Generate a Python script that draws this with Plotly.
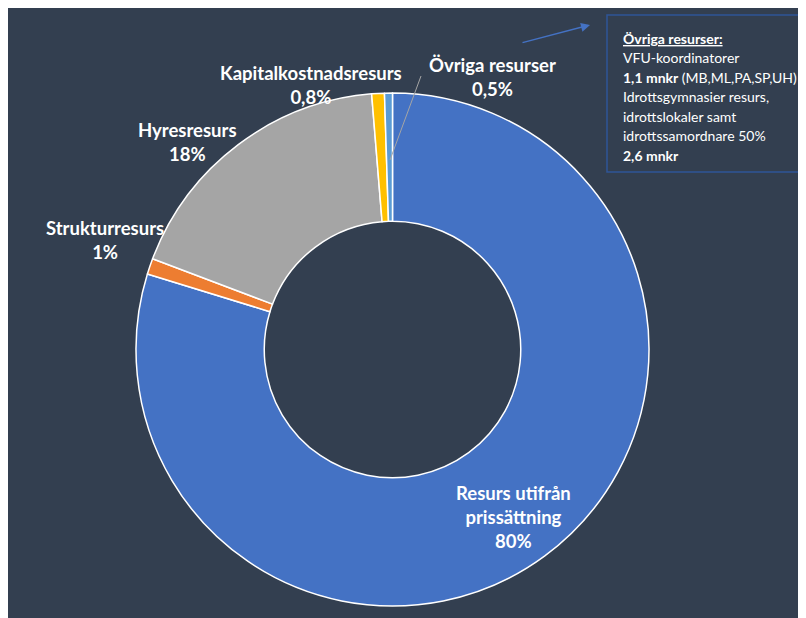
import plotly.graph_objects as go

# page body has an 8px margin, so the figure occupies 798x610 starting at (8, 8)
OFF = 8
W, H = 806 - OFF, 618 - OFF

categories = ["Resurs utifrån prissättning", "Strukturresurs", "Hyresresurs",
              "Kapitalkostnadsresurs", "Övriga resurser"]
values = [80, 1, 18, 0.8, 0.5]
pct_labels = ["80%", "1%", "18%", "0,8%", "0,5%"]
colors = ["#4472C4", "#ED7D31", "#A5A5A5", "#FFC000", "#5B9BD5"]

info_lines = [
    "<b><u>Övriga resurser:</u></b>",
    "VFU-koordinatorer",
    "<b>1,1 mnkr</b> (MB,ML,PA,SP,UH)",
    "Idrottsgymnasier resurs,",
    "idrottslokaler samt",
    "idrottssamordnare 50%",
    "<b>2,6 mnkr</b>",
]

BG = "#333F50"
FONT = "Lato"

def px(x):
    return (x - OFF) / W

def py(y):
    return 1 - (y - OFF) / H

cx, cy, r = 392.5, 349.5, 256.5

fig = go.Figure(go.Pie(
    labels=categories,
    values=values,
    hole=0.5,
    sort=False,
    direction="clockwise",
    rotation=0,
    marker=dict(colors=colors, line=dict(color="white", width=1.5)),
    textinfo="none",
    hoverinfo="label+percent",
    showlegend=False,
    domain=dict(x=[px(cx - r), px(cx + r)], y=[py(cy + r), py(cy - r)]),
))

label_pos = {
    "Resurs utifrån prissättning": (513, 517),
    "Strukturresurs": (105, 240),
    "Hyresresurs": (187, 142),
    "Kapitalkostnadsresurs": (311, 85),
    "Övriga resurser": (492, 77),
}
label_text = {
    "Resurs utifrån prissättning": "Resurs utifrån<br>prissättning",
}

annotations = []
for cat, pl in zip(categories, pct_labels):
    x, y = label_pos[cat]
    t = label_text.get(cat, cat)
    annotations.append(dict(
        x=px(x), y=py(y), xref="paper", yref="paper",
        text="<b>" + t + "<br>" + pl + "</b>",
        showarrow=False, xanchor="center", yanchor="middle",
        font=dict(family=FONT, size=18.5, color="white"), align="center",
    ))

y0 = 38
for i, line in enumerate(info_lines):
    annotations.append(dict(
        x=px(621), y=py(y0 + i * 19.5), xref="paper", yref="paper",
        text=line, showarrow=False, xanchor="left", yanchor="middle",
        font=dict(family=FONT, size=14, color="white"), align="left",
    ))

annotations.append(dict(
    x=px(590), y=py(25), xref="paper", yref="paper",
    ax=-69, ay=18, text="", showarrow=True,
    arrowhead=2, arrowsize=1.2, arrowwidth=1.5, arrowcolor="#4472C4",
))

shapes = [
    dict(type="rect", xref="paper", yref="paper", x0=px(607), x1=px(830),
         y0=py(172), y1=py(15), line=dict(color="#2F5597", width=1.5),
         fillcolor="rgba(0,0,0,0)"),
    dict(type="line", xref="paper", yref="paper", x0=px(421), y0=py(76),
         x1=px(390), y1=py(160), line=dict(color="#A5A5A5", width=1)),
]

fig.update_layout(
    width=W, height=H,
    margin=dict(l=0, r=0, t=0, b=0),
    paper_bgcolor=BG, plot_bgcolor=BG,
    annotations=annotations, shapes=shapes,
)

fig.write_html("out.html")
